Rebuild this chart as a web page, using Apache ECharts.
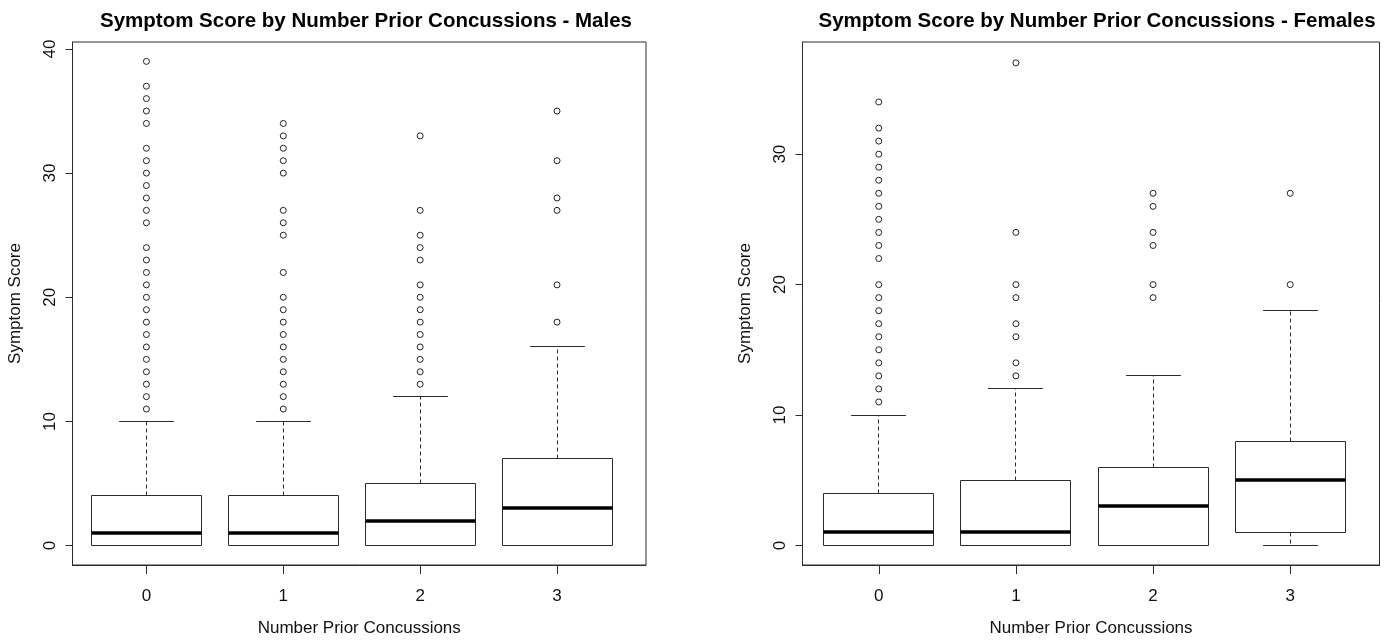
<!DOCTYPE html>
<html>
<head>
<meta charset="utf-8">
<script src="https://cdn.jsdelivr.net/npm/echarts@6/dist/echarts.min.js"></script>
<style>
html,body{margin:0;padding:0;background:#fff;}
#chart{width:1385px;height:642px;}
</style>
</head>
<body>
<div id="chart"></div>
<script>
// ---- data ----
const categories = ['0', '1', '2', '3'];
const xTicks = [0, 1, 2, 3];
const maleYTicks = [0, 10, 20, 30, 40];
const femaleYTicks = [0, 10, 20, 30];

// [lower whisker, Q1, median, Q3, upper whisker]
const maleStats = [[0, 0, 1, 4, 10], [0, 0, 1, 4, 10], [0, 0, 2, 5, 12], [0, 0, 3, 7, 16]];
const femaleStats = [[0, 0, 1, 4, 10], [0, 0, 1, 5, 12], [0, 0, 3, 6, 13], [0, 1, 5, 8, 18]];

const maleOut0 = [11,12,13,14,15,16,17,18,19,20,21,22,23,24,26,27,28,29,30,31,32,34,35,36,37,39];
const maleOut1 = [11,12,13,14,15,16,17,18,19,20,22,25,26,27,30,31,32,33,34];
const maleOut2 = [13,14,15,16,17,18,19,20,21,23,24,25,27,33];
const maleOut3 = [18,21,27,28,31,35];
const femaleOut0 = [11,12,13,14,15,16,17,18,19,20,22,23,24,25,26,27,28,29,30,31,32,34];
const femaleOut1 = [13,14,16,17,19,20,24,37];
const femaleOut2 = [19,20,23,24,26,27];
const femaleOut3 = [20,27];

const maleTitle = 'Symptom Score by Number Prior Concussions - Males';
const femaleTitle = 'Symptom Score by Number Prior Concussions - Females';
const xName = 'Number Prior Concussions';
const yName = 'Symptom Score';

// ---- build ----
const FONT = '"Liberation Sans", Arial, sans-serif';
const LINE = '#2b2b2b';

function toBoxData(stats) { return stats.map((s, i) => [i].concat(s)); }
function toOutData(lists) {
  const out = [];
  lists.forEach((arr, i) => arr.forEach(v => out.push([i, v])));
  return out;
}
function crisp(v) { return Math.round(v - 0.5) + 0.5; }

function renderBox(params, api) {
  const x = api.value(0);
  const lo = api.value(1), q1 = api.value(2), med = api.value(3), q3 = api.value(4), hi = api.value(5);
  const halfW = api.size([0.4, 0])[0];
  const capW = halfW / 2;
  const cx = crisp(api.coord([x, 0])[0]);
  const yLo = crisp(api.coord([x, lo])[1]);
  const yQ1 = crisp(api.coord([x, q1])[1]);
  const yMed = Math.round(api.coord([x, med])[1]);
  const yQ3 = crisp(api.coord([x, q3])[1]);
  const yHi = crisp(api.coord([x, hi])[1]);
  const left = crisp(cx - halfW), right = crisp(cx + halfW);
  const solid = { stroke: LINE, lineWidth: 1, fill: null };
  const dashed = { stroke: LINE, lineWidth: 1, lineDash: [4, 3], fill: null };
  const children = [
    { type: 'line', shape: { x1: cx, y1: yQ3, x2: cx, y2: yHi }, style: dashed },
    { type: 'line', shape: { x1: cx - capW, y1: yHi, x2: cx + capW, y2: yHi }, style: solid },
    { type: 'line', shape: { x1: cx, y1: yQ1, x2: cx, y2: yLo }, style: dashed },
    { type: 'line', shape: { x1: cx - capW, y1: yLo, x2: cx + capW, y2: yLo }, style: solid },
    { type: 'rect', shape: { x: left, y: yQ3, width: right - left, height: yQ1 - yQ3 }, style: { stroke: LINE, lineWidth: 1, fill: '#fff' } },
    { type: 'line', shape: { x1: left, y1: yMed, x2: right, y2: yMed }, style: { stroke: '#000', lineWidth: 3.5 } }
  ];
  return { type: 'group', children: children };
}

function xAxisCfg(gi, min, max) {
  return {
    type: 'value', gridIndex: gi, min: min, max: max,
    splitLine: { show: false },
    axisLine: { show: true, onZero: false, lineStyle: { color: LINE } },
    axisTick: { show: true, customValues: xTicks, length: 9, lineStyle: { color: LINE } },
    axisLabel: { customValues: xTicks, formatter: v => categories[Math.round(v)], fontSize: 17, color: '#111', fontFamily: FONT, margin: 23 },
    name: xName, nameLocation: 'middle', nameGap: 55,
    nameTextStyle: { fontSize: 17, color: '#111', fontFamily: FONT }
  };
}
function yAxisCfg(gi, min, max, ticks) {
  return {
    type: 'value', gridIndex: gi, min: min, max: max,
    splitLine: { show: false },
    axisLine: { show: true, onZero: false, lineStyle: { color: LINE } },
    axisTick: { show: true, customValues: ticks, length: 7, lineStyle: { color: LINE } },
    axisLabel: { customValues: ticks, rotate: 90, fontSize: 17, color: '#111', fontFamily: FONT, margin: 14 },
    name: yName, nameLocation: 'middle', nameGap: 49, nameRotate: 90,
    nameTextStyle: { fontSize: 17, color: '#111', fontFamily: FONT }
  };
}

const option = {
  backgroundColor: '#fff',
  animation: false,
  title: [
    { text: maleTitle, left: 361, top: 6, textAlign: 'center', textStyle: { fontSize: 20.5, fontWeight: 'bold', color: '#000', fontFamily: FONT } },
    { text: femaleTitle, left: 1092, top: 6, textAlign: 'center', textStyle: { fontSize: 20.5, fontWeight: 'bold', color: '#000', fontFamily: FONT } }
  ],
  grid: [
    { left: 72.5, top: 42, width: 573.5, height: 528.5, show: true, borderColor: LINE, borderWidth: 1, backgroundColor: 'transparent', containLabel: false },
    { left: 802.5, top: 42, width: 577, height: 531, show: true, borderColor: LINE, borderWidth: 1, backgroundColor: 'transparent', containLabel: false }
  ],
  xAxis: [xAxisCfg(0, -0.54, 3.65), xAxisCfg(1, -0.556, 3.651)],
  yAxis: [yAxisCfg(0, -1.56, 40.56, maleYTicks), yAxisCfg(1, -1.5, 38.6, femaleYTicks)],
  series: [
    { type: 'custom', xAxisIndex: 0, yAxisIndex: 0, renderItem: renderBox, data: toBoxData(maleStats), encode: { x: 0, y: [1, 2, 3, 4, 5] }, clip: false },
    { type: 'scatter', xAxisIndex: 0, yAxisIndex: 0, data: toOutData([maleOut0, maleOut1, maleOut2, maleOut3]), symbol: 'circle', symbolSize: 6, itemStyle: { color: '#fff', borderColor: '#222', borderWidth: 1, opacity: 1 } },
    { type: 'custom', xAxisIndex: 1, yAxisIndex: 1, renderItem: renderBox, data: toBoxData(femaleStats), encode: { x: 0, y: [1, 2, 3, 4, 5] }, clip: false },
    { type: 'scatter', xAxisIndex: 1, yAxisIndex: 1, data: toOutData([femaleOut0, femaleOut1, femaleOut2, femaleOut3]), symbol: 'circle', symbolSize: 6, itemStyle: { color: '#fff', borderColor: '#222', borderWidth: 1, opacity: 1 } }
  ]
};

const chart = echarts.init(document.getElementById('chart'), null, { renderer: 'canvas' });
chart.setOption(option);
</script>
</body>
</html>
